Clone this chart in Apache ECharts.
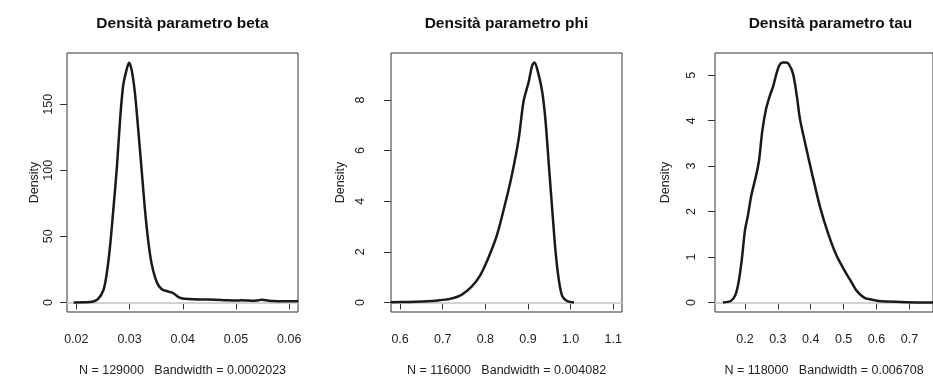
<!DOCTYPE html>
<html>
<head>
<meta charset="utf-8">
<script src="https://cdn.jsdelivr.net/npm/echarts@6/dist/echarts.min.js"></script>
<style>
  html, body { margin: 0; padding: 0; background: #fff; }
  #chart { width: 933px; height: 382px; }
</style>
</head>
<body>
<div id="chart"></div>
<script>
// densita' a posteriori
const betaX = [0.0195, 0.0215, 0.0230, 0.0241, 0.0251, 0.0257, 0.0263, 0.02695, 0.0276, 0.0282, 0.0288, 0.0295, 0.0299, 0.0304, 0.0310, 0.03165, 0.0323, 0.0329, 0.03353, 0.03416, 0.0351, 0.03605, 0.0373, 0.0382, 0.0395, 0.0404, 0.0420, 0.0440, 0.0460, 0.0480, 0.0500, 0.0510, 0.0520, 0.0530, 0.0540, 0.0548, 0.0556, 0.0570, 0.0585, 0.0600, 0.0617];
const betaY = [0, 0.1, 0.5, 2.7, 9.4, 21.5, 41, 70, 101, 137, 164, 177, 181.5, 176, 159, 130, 99, 70, 46, 29, 15.5, 10, 8.2, 7, 3.4, 2.8, 2.4, 2.2, 2.1, 1.7, 1.4, 1.6, 1.5, 1.2, 1.5, 2.0, 1.6, 1.0, 0.8, 0.8, 0.8];

const phiX = [0.5787, 0.62, 0.6534, 0.69, 0.7166, 0.7442, 0.7678, 0.7875, 0.807, 0.827, 0.8466, 0.8624, 0.878, 0.8898, 0.9017, 0.9097, 0.9151, 0.9215, 0.9333, 0.9411, 0.949, 0.957, 0.9648, 0.9726, 0.9806, 0.9924, 1.008];
const phiY = [0.01, 0.02, 0.04, 0.08, 0.14, 0.30, 0.62, 1.06, 1.76, 2.65, 3.91, 5.05, 6.44, 7.96, 8.72, 9.35, 9.48, 9.23, 8.34, 7.2, 5.43, 3.66, 2.0, 0.87, 0.24, 0.05, 0.0];

const tauX = [0.1332, 0.157, 0.1713, 0.1808, 0.1905, 0.2, 0.2095, 0.2192, 0.2335, 0.243, 0.2525, 0.264, 0.2766, 0.286, 0.2956, 0.3053, 0.3150, 0.3242, 0.3339, 0.3463, 0.3578, 0.3672, 0.3816, 0.4057, 0.4295, 0.4533, 0.4774, 0.506, 0.5204, 0.5393, 0.5635, 0.5873, 0.6065, 0.673, 0.733, 0.772];
const tauY = [0, 0.03, 0.17, 0.45, 0.94, 1.58, 1.93, 2.35, 2.78, 3.13, 3.76, 4.25, 4.57, 4.76, 5.03, 5.23, 5.28, 5.28, 5.24, 5.03, 4.54, 4.04, 3.55, 2.78, 2.07, 1.51, 1.05, 0.66, 0.49, 0.26, 0.1, 0.06, 0.03, 0.01, 0.0, 0.0];

const titles = ["Densità parametro beta", "Densità parametro phi", "Densità parametro tau"];
const subs = ["N = 129000   Bandwidth = 0.0002023", "N = 116000   Bandwidth = 0.004082", "N = 118000   Bandwidth = 0.006708"];

const betaTicks = [0.02, 0.03, 0.04, 0.05, 0.06];
const phiTicks = [0.6, 0.7, 0.8, 0.9, 1.0, 1.1];
const tauTicks = [0.2, 0.3, 0.4, 0.5, 0.6, 0.7];
const betaYTicks = [0, 50, 100, 150];
const phiYTicks = [0, 2, 4, 6, 8];
const tauYTicks = [0, 1, 2, 3, 4, 5];

const font = "Liberation Sans, Arial, Helvetica, sans-serif";
const ink = "#222";

const panels = [
  { x: betaX, y: betaY, xt: betaTicks, yt: betaYTicks, xr: [0.01825, 0.06165], yr: [-7.26, 188.8], dec: 2, left: 67, yLabGap: 12, nameGap: 26 },
  { x: phiX, y: phiY, xt: phiTicks, yt: phiYTicks, xr: [0.5787, 1.1206], yr: [-0.379, 9.86], dec: 1, left: 391, yLabGap: 24, nameGap: 44 },
  { x: tauX, y: tauY, xt: tauTicks, yt: tauYTicks, xr: [0.109, 0.7717], yr: [-0.211, 5.49], dec: 1, left: 715, yLabGap: 17, nameGap: 43 }
];

const W = 231, TOP = 53, H = 270;

const option = {
  animation: false,
  backgroundColor: "#fff",
  title: panels.map((p, i) => ({
    text: titles[i],
    left: p.left + W / 2,
    top: 16,
    textAlign: "center",
    padding: 0,
    textStyle: { fontFamily: font, fontSize: 15.5, fontWeight: "bold", color: "#111" }
  })),
  grid: panels.map(p => ({
    left: p.left, top: TOP, width: W, height: H,
    show: true, borderColor: "#333", borderWidth: 1, backgroundColor: "transparent"
  })),
  xAxis: panels.map((p, i) => ({
    type: "value", gridIndex: i, min: p.xr[0], max: p.xr[1],
    splitLine: { show: false },
    axisLine: { show: false },
    axisTick: { show: true, length: 7, customValues: p.xt, lineStyle: { color: "#333", width: 1 } },
    axisLabel: {
      customValues: p.xt, margin: 21, fontFamily: font, fontSize: 12.5, color: ink,
      formatter: v => v.toFixed(p.dec)
    },
    name: subs[i], nameLocation: "middle", nameGap: 52,
    nameTextStyle: { fontFamily: font, fontSize: 12.5, color: ink }
  })),
  yAxis: panels.map((p, i) => ({
    type: "value", gridIndex: i, min: p.yr[0], max: p.yr[1],
    splitLine: { show: false },
    axisLine: { show: false },
    axisTick: { show: true, length: 7, customValues: p.yt, lineStyle: { color: "#333", width: 1 } },
    axisLabel: {
      customValues: p.yt, rotate: 90, margin: p.yLabGap, fontFamily: font, fontSize: 12.5, color: ink,
      formatter: v => String(v)
    },
    name: "Density", nameLocation: "middle", nameGap: p.nameGap,
    nameTextStyle: { fontFamily: font, fontSize: 12.5, color: ink }
  })),
  series: panels.map((p, i) => ({
    type: "line", xAxisIndex: i, yAxisIndex: i,
    data: p.x.map((v, k) => [v, p.y[k]]),
    showSymbol: false, smooth: 0.3, clip: true,
    lineStyle: { color: "#1a1a1a", width: 2.5 },
    markLine: {
      silent: true, symbol: "none", label: { show: false }, z: 1,
      lineStyle: { color: "#d2d2d2", width: 2, type: "solid" },
      data: [{ yAxis: 0 }]
    },
    z: 3
  }))
};

echarts.init(document.getElementById("chart"), null, { renderer: "canvas" }).setOption(option);
</script>
</body>
</html>
